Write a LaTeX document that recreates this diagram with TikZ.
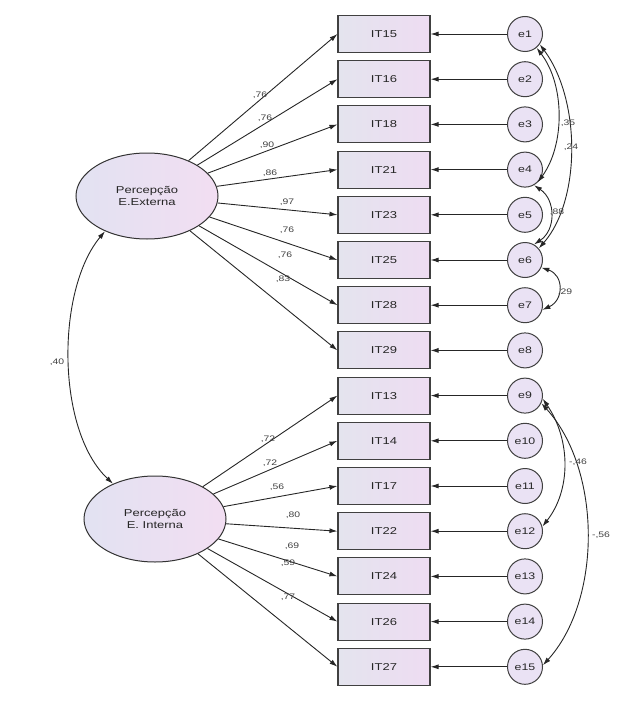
\documentclass[tikz,border=0pt]{standalone}
\usepackage{fontspec}
\setmainfont{Liberation Sans}
\newfontfamily\amosfont[FakeStretch=1.3]{Liberation Sans}
\usetikzlibrary{arrows.meta,shapes.geometric}
\definecolor{boxleft}{RGB}{228,228,238}
\definecolor{boxright}{RGB}{238,220,242}
\definecolor{latleft}{RGB}{226,226,242}
\definecolor{latright}{RGB}{242,222,242}
\definecolor{errfill}{RGB}{234,226,244}
\tikzset{item/.style={draw=black!75, line width=1.1pt,
        left color=boxleft, right color=boxright,
        minimum width=92pt, minimum height=37pt,
        font=\amosfont\fontsize{10}{12}\selectfont, text=black!85},
    latent/.style={ellipse, draw=black!80, line width=1pt,
        left color=latleft, right color=latright,
        minimum width=142pt, minimum height=86pt, inner sep=0pt,
        align=center, font=\amosfont\fontsize{10}{11.5}\selectfont, text=black!85},
    err/.style={circle, draw=black!75, line width=1pt, fill=errfill,
        minimum size=35pt, inner sep=0pt,
        font=\amosfont\fontsize{9.5}{10}\selectfont, text=black!85},
    path/.style={-{Latex[length=8pt,width=5pt]}, line width=0.9pt, black!85},
    cov/.style={{Latex[length=8pt,width=5pt]}-{Latex[length=8pt,width=5pt]},
        line width=0.9pt, black!85},
    coef/.style={font=\amosfont\fontsize{8}{9}\selectfont, text=black!75, inner sep=1pt},
    }
\begin{document}
\begin{tikzpicture}[x=1pt,y=-1pt]
\useasboundingbox (0,0) rectangle (629,701);
\node[latent] (ext) at (147,196) {Percepção\\E.Externa};
\node[latent] (int) at (155,519) {Percepção\\E. Interna};
\foreach \n [count=\i] in {15,16,18,21,23,25,28,29,13,14,17,22,24,26,27} {
    \node[item] (it\n) at (384,{34+(\i-1)*45.2}) {IT\n};
    \node[err] (e\i) at (525,{34+(\i-1)*45.2}) {e\i};
    \draw[path] (e\i) -- (it\n);
}
\foreach \n/\v/\lx/\ly in {15/76/260/95, 16/76/265/118, 18/90/267/145, 21/86/270/173,
    23/97/287/202, 25/76/287/230, 28/76/285/255, 29/83/283/279} {
    \draw[path] (ext) -- (it\n.west);
    \node[coef] (l\n) at (\lx,\ly) {,\v};
}
\foreach \n/\v/\lx/\ly in {13/72/268/439, 14/72/270/463, 17/56/277/487, 22/80/293/515,
    24/69/292/546, 26/59/288/563, 27/77/288/597} {
    \draw[path] (int) -- (it\n.west);
    \node[coef] (l\n) at (\lx,\ly) {,\v};
}
\draw[cov] (ext.220) .. controls (56,290) and (56,430) .. (int.140);
\node[coef] (r40) at (57,362) {,40};
\draw[cov] (e1.-50) .. controls (565,85) and (565,145) .. (e4.-45);
\draw[cov] (e1.-35) .. controls (581,100) and (581,200) .. (e6.40);
\draw[cov] (e4.-60) .. controls (556,200) and (556,230) .. (e6.60);
\draw[cov] (e6.-25) .. controls (564,275) and (564,300) .. (e7.-15);
\node[coef] (r35) at (568,123) {,35};
\node[coef] (r24) at (571,147) {,24};
\node[coef] (r88) at (557,212) {,88};
\node[coef] (r29) at (565,292) {,29};
\draw[cov] (e9.-10) .. controls (571,440) and (571,490) .. (e12.15);
\draw[cov] (e9.-25) .. controls (602,470) and (602,600) .. (e15.5);
\node[coef] (r46) at (578,462) {-,46};
\node[coef] (r56) at (601,535) {-,56};
\end{tikzpicture}
\end{document}
